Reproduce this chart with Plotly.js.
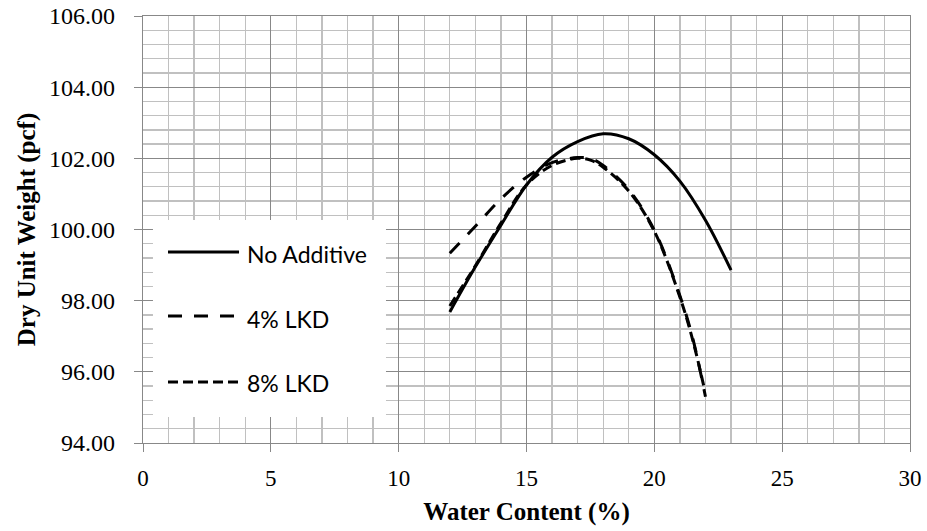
<!DOCTYPE html>
<html>
<head>
<meta charset="utf-8">
<script src="https://cdn.plot.ly/plotly-3.0.1.min.js"></script>
<style>
  html, body { margin: 0; padding: 0; background: #ffffff; }
  #chart { width: 927px; height: 531px; }
</style>
</head>
<body>
<div id="chart"></div>
<script>
// ---- Data ----
var seriesNames = ["No Additive", "4% LKD", "8% LKD"];

var waterNoAdditive = [12, 13, 14, 15, 16, 17, 18, 19, 20, 21, 22, 23];
var dryNoAdditive   = [97.68, 98.95, 100.12, 101.25, 102.03, 102.47, 102.69, 102.55, 102.1, 101.36, 100.26, 98.86];

var water4LKD = [12, 13, 14, 15, 16, 17, 17.5, 18, 19, 20, 21, 21.5, 22];
var dry4LKD   = [99.33, 100.09, 100.86, 101.47, 101.88, 102.02, 102.0, 101.8, 101.12, 99.98, 98.14, 96.95, 95.3];

var water8LKD = [12, 13, 14, 15, 16, 17, 17.5, 18, 19, 20, 21, 21.5, 21.95];
var dry8LKD   = [97.85, 98.98, 100.18, 101.25, 101.8, 102.0, 101.95, 101.75, 101.08, 99.95, 98.1, 96.9, 95.55];

var xTickVals = [0, 5, 10, 15, 20, 25, 30];
var yTickVals = [94, 96, 98, 100, 102, 104, 106];

// ---- Styles ----
var serif = "Liberation Serif, Times New Roman, serif";
var dashes = ["solid", "14px,12px", "10px,5px"];
var xs = [waterNoAdditive, water4LKD, water8LKD];
var ys = [dryNoAdditive, dry4LKD, dry8LKD];

var traces = [];
for (var i = 0; i < 3; i++) {
  traces.push({
    x: xs[i], y: ys[i], name: seriesNames[i],
    type: "scatter", mode: "lines",
    line: { color: "#000000", width: 3, dash: dashes[i], shape: "spline", smoothing: 1 },
    showlegend: false, hoverinfo: "skip"
  });
}

// custom legend (white box, sample lines, labels) in paper coordinates
var legLineX0 = 0.0326, legLineX1 = 0.1252, legTextX = 0.1330;
var legLineY = [0.4473, 0.2974, 0.1429];
var legTextY = [0.4426, 0.2904, 0.1405];

var shapes = [{
  type: "rect", xref: "paper", yref: "paper",
  x0: 0.013, x1: 0.3168, y0: 0.0609, y1: 0.5222,
  fillcolor: "#ffffff", line: { width: 0 }, layer: "above"
}];
var annotations = [];
for (var j = 0; j < 3; j++) {
  shapes.push({
    type: "line", xref: "paper", yref: "paper",
    x0: legLineX0, x1: legLineX1, y0: legLineY[j], y1: legLineY[j],
    line: { color: "#000000", width: 3, dash: dashes[j] }, layer: "above"
  });
  annotations.push({
    xref: "paper", yref: "paper", x: legTextX, y: legTextY[j],
    xanchor: "left", yanchor: "middle", showarrow: false,
    text: seriesNames[j],
    font: { family: "Lato, Open Sans, sans-serif", size: 23, color: "#000000" }
  });
}

var layout = {
  width: 927, height: 531,
  margin: { l: 143, r: 17, t: 16, b: 88, pad: 0 },
  paper_bgcolor: "#ffffff", plot_bgcolor: "#ffffff",
  showlegend: false,
  xaxis: {
    range: [0, 30], tickvals: xTickVals, ticktext: xTickVals.map(String),
    showgrid: true, gridcolor: "#888888", gridwidth: 1.2,
    minor: { dtick: 1, tick0: 0, showgrid: true, gridcolor: "#c0c0c0", gridwidth: 1.3, ticks: "" },
    showline: true, linecolor: "#888888", linewidth: 1.2, mirror: true,
    ticks: "outside", ticklen: 8, tickwidth: 1, tickcolor: "#888888",
    ticklabelstandoff: 6,
    tickfont: { family: serif, size: 23, color: "#000000" },
    zeroline: false,
    title: { text: "<b>Water Content (%)</b>", font: { family: serif, size: 25, color: "#000000" }, standoff: 12 }
  },
  yaxis: {
    range: [94, 106], tickvals: yTickVals, ticktext: yTickVals.map(function (v) { return v.toFixed(2); }),
    showgrid: true, gridcolor: "#888888", gridwidth: 1.2,
    minor: { dtick: 0.4, tick0: 94, showgrid: true, gridcolor: "#c0c0c0", gridwidth: 1.3, ticks: "" },
    showline: true, linecolor: "#888888", linewidth: 1.2, mirror: true,
    ticks: "outside", ticklen: 8, tickwidth: 1, tickcolor: "#888888",
    ticklabelstandoff: 14,
    tickfont: { family: serif, size: 24, color: "#000000" },
    zeroline: false,
    title: { text: "<b>Dry Unit Weight (pcf)</b>", font: { family: serif, size: 25, color: "#000000" }, standoff: 6 }
  },
  shapes: shapes,
  annotations: annotations
};

Plotly.newPlot("chart", traces, layout, { displayModeBar: false, staticPlot: true });
</script>
</body>
</html>
